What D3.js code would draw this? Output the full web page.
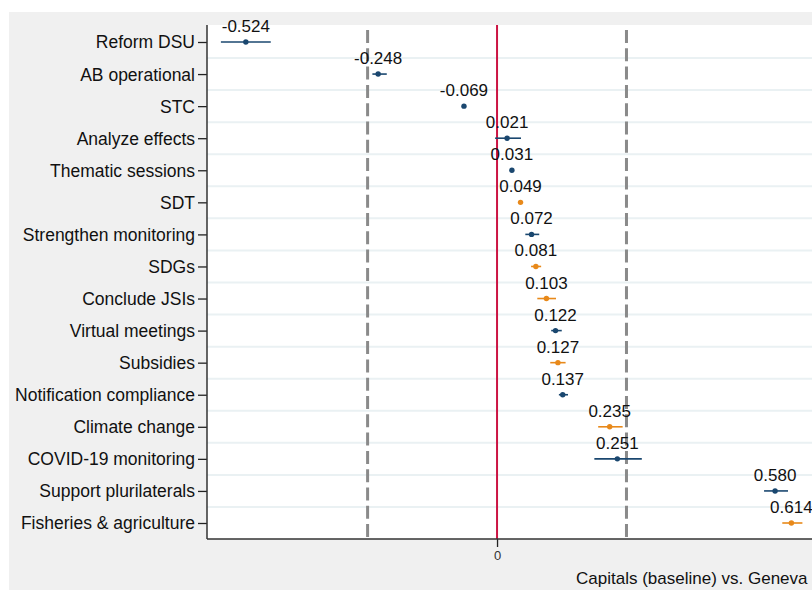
<!DOCTYPE html>
<html>
<head>
<meta charset="utf-8">
<script src="https://cdn.jsdelivr.net/npm/d3@7"></script>
<style>
  body { margin: 0; background: #fff; }
  text { font-family: "Liberation Sans", Arial, sans-serif; }
</style>
</head>
<body>
<script>
'use strict';

const categories = ["Reform DSU", "AB operational", "STC", "Analyze effects", "Thematic sessions",
    "SDT", "Strengthen monitoring", "SDGs", "Conclude JSIs", "Virtual meetings", "Subsidies",
    "Notification compliance", "Climate change", "COVID-19 monitoring", "Support plurilaterals",
    "Fisheries & agriculture"]
const estimates = [-0.524, -0.248, -0.069, 0.021, 0.031, 0.049, 0.072, 0.081, 0.103, 0.122,
    0.127, 0.137, 0.235, 0.251, 0.580, 0.614]
const ciLow = [-0.576, -0.260, -0.071, -0.004, 0.029, 0.047, 0.059, 0.071, 0.084, 0.113,
    0.111, 0.129, 0.211, 0.203, 0.557, 0.595]
const ciHigh = [-0.472, -0.230, -0.067, 0.050, 0.033, 0.051, 0.088, 0.092, 0.123, 0.135,
    0.143, 0.148, 0.262, 0.302, 0.607, 0.637]
const groups = ["a", "a", "a", "a", "a", "b", "a", "b", "b", "a", "b", "a", "b", "a", "a", "b"]
const refLines = [-0.27, 0.27]
const xTicks = [0]
const xTitle = "Capitals (baseline) vs. Geneva"

const colors = { a: "#1a476f", b: "#e8891a" }

const m = { left: 207, top: 25, bottom: 539, right: 812 }

const svg = d3.select("body").append("svg")
    .attr("width", 812)
    .attr("height", 590)

// outer graph region
svg.append("rect")
    .attr("x", 9).attr("y", 12)
    .attr("width", 803).attr("height", 578)
    .attr("fill", "#f0f0f0")

svg.append("rect")
    .attr("x", m.left).attr("y", m.top)
    .attr("width", m.right - m.left).attr("height", m.bottom - m.top)
    .attr("fill", "#fff")

const x = d3.scaleLinear()
    .domain([-0.605, 0.657])
    .range([m.left, m.right])

const y = d3.scalePoint()
    .domain(categories)
    .range([42, 523])

// gridlines between rows
const step = y.step()
svg.append("g").selectAll("line")
    .data(categories.slice(1))
    .enter().append("line")
    .attr("x1", m.left).attr("x2", m.right)
    .attr("y1", d => y(d) - step / 2)
    .attr("y2", d => y(d) - step / 2)
    .attr("stroke", "#eaf1f3")
    .attr("stroke-width", 2)

// dashed reference lines
svg.append("g").selectAll("line")
    .data(refLines)
    .enter().append("line")
    .attr("x1", d => x(d)).attr("x2", d => x(d))
    .attr("y1", 30).attr("y2", m.bottom)
    .attr("stroke", "#8a8a8a")
    .attr("stroke-width", 3)
    .attr("stroke-dasharray", "13,5.3")

// zero line
svg.append("line")
    .attr("x1", x(0)).attr("x2", x(0))
    .attr("y1", m.top).attr("y2", m.bottom)
    .attr("stroke", "#cc1443")
    .attr("stroke-width", 2)

const rows = categories.map((c, i) => ({
    cat: c, est: estimates[i], lo: ciLow[i], hi: ciHigh[i], g: groups[i]
}))

svg.append("g").selectAll("line")
    .data(rows)
    .enter().append("line")
    .attr("x1", d => x(d.lo)).attr("x2", d => x(d.hi))
    .attr("y1", d => y(d.cat)).attr("y2", d => y(d.cat))
    .attr("stroke", d => colors[d.g])
    .attr("stroke-width", 1.6)

svg.append("g").selectAll("circle")
    .data(rows)
    .enter().append("circle")
    .attr("cx", d => x(d.est))
    .attr("cy", d => y(d.cat))
    .attr("r", 2.7)
    .attr("fill", d => colors[d.g])

svg.append("g").selectAll("text")
    .data(rows)
    .enter().append("text")
    .attr("x", d => x(d.est))
    .attr("y", d => y(d.cat) - 10)
    .attr("text-anchor", "middle")
    .attr("font-size", "17px")
    .attr("fill", "#111")
    .text(d => d.est.toFixed(3))

// y axis
const yAxis = svg.append("g")
    .attr("transform", "translate(" + m.left + ",0)")
    .call(d3.axisLeft(y).tickSize(9).tickPadding(3))
yAxis.select(".domain").remove()
yAxis.selectAll(".tick line").attr("stroke", "#222").attr("stroke-width", 1.3)
yAxis.selectAll(".tick text")
    .attr("font-size", "17.5px")
    .attr("font-family", "Liberation Sans, Arial, sans-serif")
    .attr("fill", "#111")
    .attr("dy", "0.34em")

svg.append("line")
    .attr("x1", m.left).attr("x2", m.left)
    .attr("y1", m.top).attr("y2", m.bottom)
    .attr("stroke", "#333").attr("stroke-width", 1.5)

// x axis
const xAxis = svg.append("g")
    .attr("transform", "translate(0," + m.bottom + ")")
    .call(d3.axisBottom(x).tickValues(xTicks).tickFormat(d3.format("d")).tickSize(8).tickPadding(4))
xAxis.select(".domain").remove()
xAxis.selectAll(".tick line").attr("stroke", "#222").attr("stroke-width", 1.3)
xAxis.selectAll(".tick text")
    .attr("font-size", "13px")
    .attr("font-family", "DejaVu Serif, serif")
    .attr("fill", "#333")

svg.append("line")
    .attr("x1", m.left).attr("x2", m.right)
    .attr("y1", m.bottom).attr("y2", m.bottom)
    .attr("stroke", "#333").attr("stroke-width", 1.5)

svg.append("text")
    .attr("x", 576)
    .attr("y", 584)
    .attr("font-size", "17px")
    .attr("fill", "#111")
    .text(xTitle)
</script>
</body>
</html>
